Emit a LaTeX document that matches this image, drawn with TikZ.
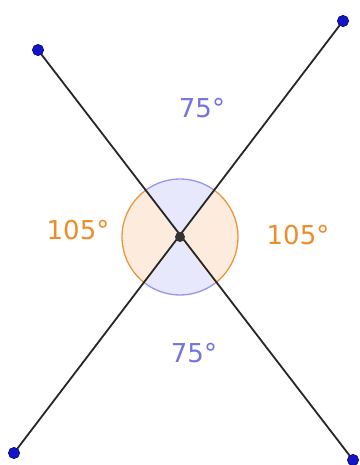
\documentclass[tikz,border=0pt]{standalone}
\usepackage{fontspec}
\setmainfont{DejaVu Sans}
\usetikzlibrary{calc}
\definecolor{bstroke}{RGB}{150,150,240}
\definecolor{bfill}{RGB}{232,232,252}
\definecolor{ostroke}{RGB}{232,150,60}
\definecolor{ofill}{RGB}{253,236,222}
\definecolor{blab}{RGB}{115,115,225}
\definecolor{olab}{RGB}{240,140,40}
\definecolor{ptblue}{RGB}{20,20,200}
\tikzset{
  seg/.style={line width=1.8pt, black!85},
  pt/.style={circle, fill=ptblue, draw=ptblue!70!black, line width=0.6pt, inner sep=0pt, minimum size=11pt},
  ctr/.style={circle, fill=black!80, inner sep=0pt, minimum size=10pt},
  lab/.style={font=\fontsize{26}{26}\selectfont, inner sep=0pt}
}
\begin{document}
\begin{tikzpicture}[x=1pt,y=1pt]
\useasboundingbox (0,0) rectangle (359,465);
\fill[white] (0,0) rectangle (359,465);
\coordinate (O) at (180,228);
% sectors
\fill[bfill] (O) -- ++(53:58) arc[start angle=53, end angle=127, radius=58] -- cycle;
\fill[bfill] (O) -- ++(233:58) arc[start angle=233, end angle=307, radius=58] -- cycle;
\fill[ofill] (O) -- ++(127:58) arc[start angle=127, end angle=233, radius=58] -- cycle;
\fill[ofill] (O) -- ++(-53:58) arc[start angle=-53, end angle=53, radius=58] -- cycle;
\draw[bstroke, line width=1.3pt] ($(O)+(53:58)$) arc[start angle=53, end angle=127, radius=58];
\draw[bstroke, line width=1.3pt] ($(O)+(233:58)$) arc[start angle=233, end angle=307, radius=58];
\draw[ostroke, line width=1.3pt] ($(O)+(127:58)$) arc[start angle=127, end angle=233, radius=58];
\draw[ostroke, line width=1.3pt] ($(O)+(-53:58)$) arc[start angle=-53, end angle=53, radius=58];
% points
\node[pt] (A) at (38,415) {};
\node[pt] (B) at (343,444) {};
\node[pt] (C) at (14,12) {};
\node[pt] (D) at (353,5) {};
\draw[seg] (A.center) -- (D.center);
\draw[seg] (B.center) -- (C.center);
\node[pt] at (A) {};
\node[pt] at (B) {};
\node[pt] at (C) {};
\node[pt] at (D) {};
\node[ctr] (M) at (O) {};
% labels
\node[lab, text=blab] (t1) at (202,357) {75°};
\node[lab, text=olab] (t2) at (78,235) {105°};
\node[lab, text=olab] (t3) at (298,230) {105°};
\node[lab, text=blab] (t4) at (194,112) {75°};
\end{tikzpicture}
\end{document}
